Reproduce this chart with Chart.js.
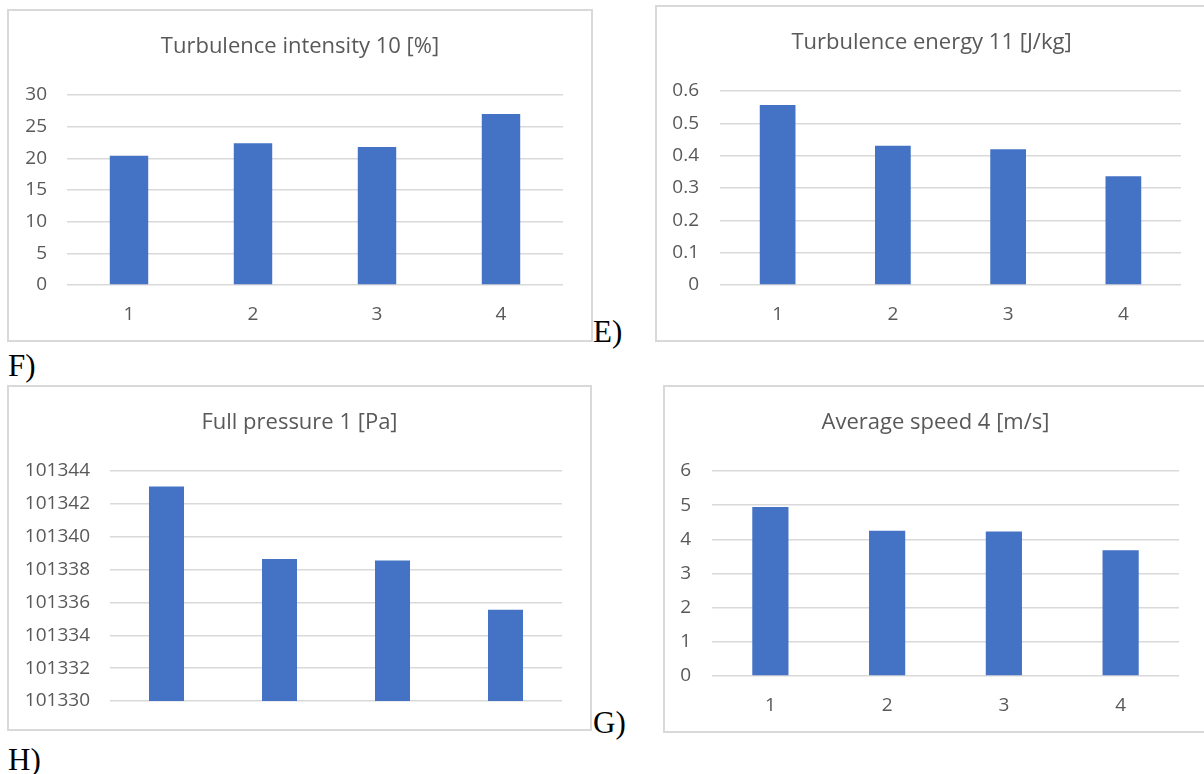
<!DOCTYPE html>
<html>
<head>
<meta charset="utf-8">
<script src="https://cdn.jsdelivr.net/npm/chart.js@4.4.0/dist/chart.umd.min.js"></script>
<style>
  body { margin: 0; background: #fff; width: 1204px; height: 774px; overflow: hidden; position: relative; }
  .box { position: absolute; border: 2px solid #d9d9d9; box-sizing: border-box; background: #fff; }
  .box canvas { display: block; }
  .tag { position: absolute; font-family: "Liberation Serif", "Times New Roman", serif; font-size: 31px; line-height: 31px; color: #000; }
</style>
</head>
<body>

<div class="box" style="left:7px; top:9px; width:586px; height:333px;"><canvas id="intensity" width="582" height="329"></canvas></div>
<div class="box" style="left:655px; top:5px; width:553px; height:337px;"><canvas id="energy" width="549" height="333"></canvas></div>
<div class="box" style="left:7px; top:385px; width:585px; height:346px;"><canvas id="pressure" width="581" height="342"></canvas></div>
<div class="box" style="left:663px; top:385px; width:545px; height:348px;"><canvas id="speed" width="541" height="344"></canvas></div>

<div class="tag" style="left:593px; top:316px;">E)</div>
<div class="tag" style="left:8px; top:350px;">F)</div>
<div class="tag" style="left:593px; top:707px;">G)</div>
<div class="tag" style="left:8px; top:744px;">H)</div>

<script>
// measurement points
var categories = ["1", "2", "3", "4"];

var intensityValues = [20.4, 22.4, 21.8, 27.0];
var energyValues = [0.557, 0.431, 0.420, 0.336];
var pressureValues = [101343.05, 101338.65, 101338.55, 101335.55];
var speedValues = [4.95, 4.25, 4.23, 3.68];

var BAR_COLOR = "#4472C4";
var TEXT_COLOR = "#595959";
var GRID_COLOR = "#d9d9d9";
var FONT = "'Open Sans', 'Noto Sans', sans-serif";

// plain number labels, no thousands separators
function tickLabel(v){
  return String(Number(v.toFixed(3)));
}

function barChart(id, title, values, o){
  var titleSize = 22;
  var titleLine = titleSize * 1.2;
  var padTop = 36 - titleLine / 2;

  return new Chart(document.getElementById(id), {
    type: "bar",
    data: {
      labels: categories,
      datasets: [{
        data: values,
        backgroundColor: BAR_COLOR,
        borderWidth: 0,
        barPercentage: 0.31,
        categoryPercentage: 1
      }]
    },
    options: {
      responsive: false,
      animation: false,
      layout: { padding: 0 },
      plugins: {
        legend: { display: false },
        tooltip: { enabled: false },
        title: {
          display: true,
          text: title,
          color: TEXT_COLOR,
          font: { family: FONT, size: titleSize, weight: "normal", lineHeight: 1.2 },
          padding: { top: padTop, bottom: o.top - padTop - titleLine }
        }
      },
      scales: {
        x: {
          display: o.showX,
          grid: { display: false },
          border: { display: false },
          ticks: {
            color: TEXT_COLOR,
            padding: 10,
            font: { family: FONT, size: 19 }
          },
          afterFit: function(scale){ scale.height = o.bottom; }
        },
        y: {
          min: o.min,
          max: o.max,
          border: { display: false },
          grid: { color: GRID_COLOR, lineWidth: 1.5, drawTicks: false },
          ticks: {
            stepSize: o.step,
            color: TEXT_COLOR,
            padding: o.tickPad,
            font: { family: FONT, size: 19 },
            callback: tickLabel
          },
          afterFit: function(scale){
            scale.width = o.left;
            // end labels may hang over the plot edges, don't reserve room for them
            scale.paddingTop = 0;
            scale.paddingBottom = 0;
          }
        },
        // empty right margin so the title stays centred on the whole box
        margin: {
          position: "right",
          display: false,
          afterFit: function(scale){ scale.width = o.padRight; }
        }
      }
    }
  });
}

barChart("intensity", "Turbulence intensity 10 [%]", intensityValues,
  { min: 0, max: 30, step: 5, left: 58, tickPad: 20, padRight: 28, bottom: 55, top: 84, showX: true });

barChart("energy", "Turbulence energy 11 [J/kg]", energyValues,
  { min: 0, max: 0.6, step: 0.1, left: 63, tickPad: 21, padRight: 25, bottom: 55, top: 84, showX: true });

// no category labels on this one, the axis starts at 101330
barChart("pressure", "Full pressure 1 [Pa]", pressureValues,
  { min: 101330, max: 101344, step: 2, left: 101, tickPad: 20, padRight: 28, bottom: 28, top: 84, showX: false });

barChart("speed", "Average speed 4 [m/s]", speedValues,
  { min: 0, max: 6, step: 1, left: 47, tickPad: 21, padRight: 27, bottom: 55, top: 84, showX: true });
</script>
</body>
</html>
